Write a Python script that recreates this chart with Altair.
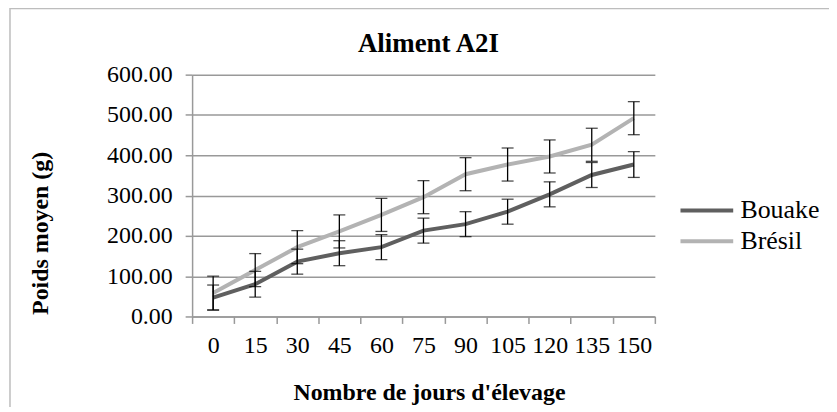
import altair as alt
import pandas as pd

days = [0, 15, 30, 45, 60, 75, 90, 105, 120, 135, 150]
bouake = [47, 80, 136, 157, 172, 213, 229, 260, 303, 351, 377]
bresil = [58, 115, 172, 211, 252, 296, 353, 377, 397, 426, 492]
err_bouake = [31, 32, 31, 31, 31, 31, 31, 31, 31, 31, 32]
err_bresil = [42, 41, 41, 41, 41, 41, 41, 41, 41, 41, 41]
series = ["Bouake", "Brésil"]
colors = ["#5f5f5f", "#b3b3b3"]
y_ticks = [0, 100, 200, 300, 400, 500, 600]

rows = []
for name, vals, errs in [("Bouake", bouake, err_bouake), ("Brésil", bresil, err_bresil)]:
    for d, v, e in zip(days, vals, errs):
        rows.append({"day": d, "serie": name, "poids": v, "lo": v - e, "hi": v + e})
df = pd.DataFrame(rows)

FONT = "Liberation Serif"

x_enc = alt.X(
    "day:O",
    sort=days,
    bandPosition=0.5,
    scale=alt.Scale(type="band", paddingInner=0, paddingOuter=0),
    axis=alt.Axis(
        title="Nombre de jours d'élevage",
        tickBand="extent",
        labelAngle=0,
        grid=False,
        tickSize=7,
        labelPadding=29,
        labelBaseline="alphabetic",
        titleX=238,
        titleY=83,
        titleBaseline="alphabetic",
        titleAlign="center",
    ),
)

base = alt.Chart(df)

frame = alt.Chart(pd.DataFrame({"a": [0]})).mark_rect(
    fill="transparent", stroke="#bdbdbd", strokeWidth=1.5
).encode(
    x=alt.value(-183), x2=alt.value(900), y=alt.value(-66.5), y2=alt.value(500)
)

lines = base.mark_line(strokeWidth=4).encode(
    x=x_enc,
    y=alt.Y(
        "poids:Q",
        scale=alt.Scale(domain=[0, 600], nice=False),
        axis=alt.Axis(
            title="Poids moyen (g)",
            values=y_ticks,
            format=".2f",
            grid=True,
            tickSize=7,
            labelPadding=13,
            titleX=-145,
            titleY=159,
            titleAngle=270,
            titleBaseline="alphabetic",
            titleAlign="center",
        ),
    ),
    color=alt.Color(
        "serie:N",
        sort=series,
        scale=alt.Scale(domain=series, range=colors),
        legend=alt.Legend(
            title=None,
            orient="none",
            legendX=515,
            legendY=121,
            symbolType="M-3,0H1",
            symbolSize=702,
            symbolStrokeWidth=4,
            symbolFillColor="transparent",
            labelFontSize=26,
            labelFont=FONT,
            labelColor="#000000",
            labelOffset=5,
            rowPadding=2,
        ),
    ),
)

rules = base.mark_rule(color="#000000", strokeWidth=1.3).encode(
    x=x_enc,
    y="lo:Q",
    y2="hi:Q",
)

caps_lo = base.mark_tick(color="#000000", thickness=1.3, size=12, orient="horizontal").encode(
    x=x_enc, y="lo:Q"
)
caps_hi = base.mark_tick(color="#000000", thickness=1.3, size=12, orient="horizontal").encode(
    x=x_enc, y="hi:Q"
)

chart = alt.layer(frame, lines, rules, caps_lo, caps_hi).properties(
    width=465,
    height=243,
    background="white",
    title=alt.TitleParams(
        "Aliment A2I", font=FONT, fontSize=27, fontWeight="bold", color="#000000",
        anchor="middle", dx=5, offset=0, dy=71, baseline="alphabetic", frame="group",
    ),
    padding={"left": 185, "top": 66, "right": 175, "bottom": 90},
    autosize=alt.AutoSizeParams(type="none"),
).configure_axis(
    labelFont=FONT,
    labelFontSize=24,
    labelColor="#000000",
    titleFont=FONT,
    titleFontSize=24,
    titleFontWeight="bold",
    titleColor="#000000",
    domainColor="#999999",
    domainWidth=1.5,
    tickColor="#999999",
    tickWidth=1.5,
    gridColor="#999999",
    gridWidth=1.5,
).configure_view(stroke=None)

chart.save("out.html", embed_options={"renderer": "svg", "actions": False})
